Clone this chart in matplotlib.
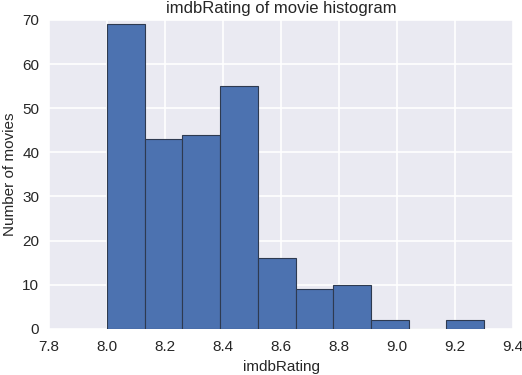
import numpy as np
import matplotlib
matplotlib.use('Agg')
import matplotlib.pyplot as plt

# histogram of imdbRating, 10 bins between 8.0 and 9.3
bin_edges = np.linspace(8.0, 9.3, 11)
counts = [69, 43, 44, 55, 16, 9, 10, 2, 0, 2]
xticks = [7.8, 8.0, 8.2, 8.4, 8.6, 8.8, 9.0, 9.2, 9.4]

plt.rcParams['font.family'] = ['Liberation Sans', 'DejaVu Sans']

fig = plt.figure(figsize=(5.22, 3.75), dpi=100)
ax = fig.add_axes([0.094, 0.123, 0.889, 0.824])
ax.set_facecolor('#EAEAF2')
for s in ax.spines.values():
    s.set_visible(False)
ax.grid(True, color='white', linewidth=1.2)
ax.set_axisbelow(True)

ax.hist(bin_edges[:-1], bins=bin_edges, weights=counts,
        color='#4C72B0', edgecolor='#2e3a50', linewidth=0.8)

ax.set_xlim(7.8, 9.4)
ax.set_ylim(0, 70)
ax.set_xticks(xticks)
ax.set_xticklabels(['%.1f' % v for v in xticks])
ax.tick_params(length=0, labelsize=11, colors='#262626')
ax.tick_params(axis='x', pad=8)
ax.tick_params(axis='y', pad=7)
ax.set_xlabel('imdbRating', fontsize=11, color='#262626')
ax.set_ylabel('Number of movies', fontsize=11, color='#262626')
ax.set_title('imdbRating of movie histogram', fontsize=12, color='#262626', pad=5)

fig.savefig('out.png', dpi=100)
